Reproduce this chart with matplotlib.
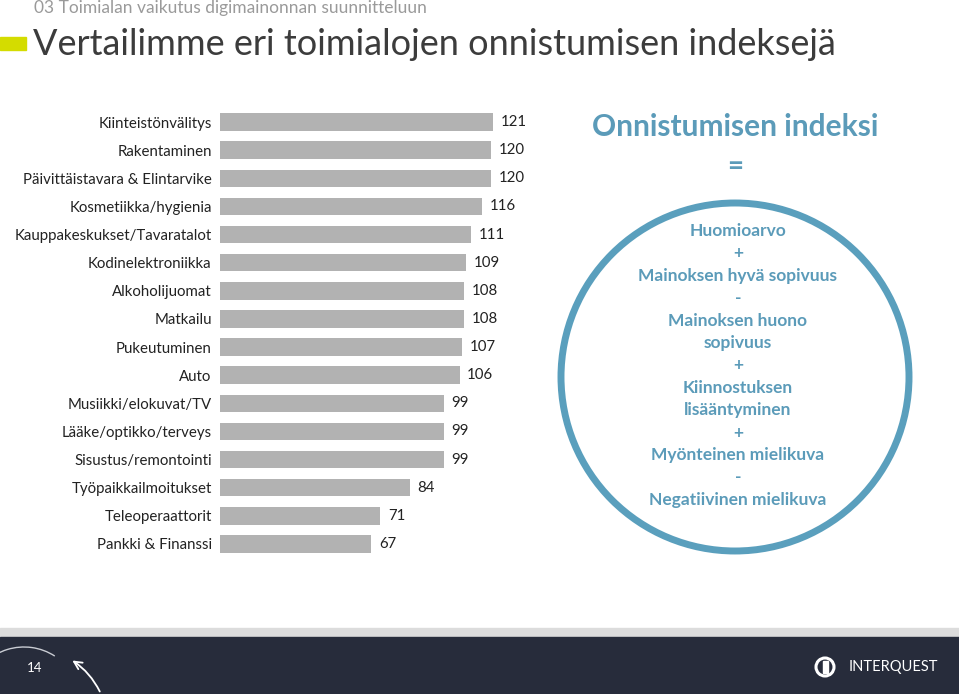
import matplotlib.pyplot as plt
from matplotlib.patches import Circle, Rectangle, FancyArrowPatch, Arc

plt.rcParams['font.family'] = ['Lato', 'DejaVu Sans']

categories = ['Kiinteistönvälitys', 'Rakentaminen', 'Päivittäistavara & Elintarvike',
              'Kosmetiikka/hygienia', 'Kauppakeskukset/Tavaratalot', 'Kodinelektroniikka',
              'Alkoholijuomat', 'Matkailu', 'Pukeutuminen', 'Auto', 'Musiikki/elokuvat/TV',
              'Lääke/optikko/terveys', 'Sisustus/remontointi', 'Työpaikkailmoitukset',
              'Teleoperaattorit', 'Pankki & Finanssi']
values = [121, 120, 120, 116, 111, 109, 108, 108, 107, 106, 99, 99, 99, 84, 71, 67]

formula = ['Huomioarvo', '+', 'Mainoksen hyvä sopivuus', '-', 'Mainoksen huono', 'sopivuus',
           '+', 'Kiinnostuksen', 'lisääntyminen', '+', 'Myönteinen mielikuva', '-',
           'Negatiivinen mielikuva']

W, H = 959, 694
fig = plt.figure(figsize=(W / 100, H / 100), dpi=100)

# overlay in pixel coordinates for slide decorations
bg = fig.add_axes([0, 0, 1, 1])
bg.set_xlim(0, W)
bg.set_ylim(H, 0)
bg.axis('off')

blue = '#5b9bb9'

bg.text(34, 8, '03 Toimialan vaikutus digimainonnan suunnitteluun', fontsize=12.5,
        color='#9a9a9a', va='center', ha='left')
bg.add_patch(Rectangle((0, 37), 26, 13, color='#d4dc00'))
bg.text(33, 44, 'Vertailimme eri toimialojen onnistumisen indeksejä', fontsize=26,
        color='#3c3c3c', va='center', ha='left')

# right side formula
bg.text(735, 127, 'Onnistumisen indeksi', fontsize=21.5, fontweight='bold', color=blue,
        ha='center', va='center')
bg.text(735, 167, '=', fontsize=20, fontweight='bold', color=blue, ha='center', va='center')
bg.add_patch(Circle((735, 377), 174, fill=False, lw=5, ec='#5a9fbd'))
for i, line in enumerate(formula):
    bg.text(738, 231 + i * 22.4, line, fontsize=12.5, fontweight='bold', color=blue,
            ha='center', va='center')

# footer
bg.add_patch(Rectangle((0, 628), W, 9, color='#dcdcdc'))
bg.add_patch(Rectangle((0, 637), W, H - 637, color='#272c3b'))
bg.add_patch(Arc((24, 700), 110, 106, theta1=200, theta2=305, color='#c9ccd3', lw=1))
bg.add_patch(FancyArrowPatch((101, 694), (70, 659), arrowstyle='->', mutation_scale=14,
                             connectionstyle='arc3,rad=0.15', color='white', lw=1.3))
bg.text(35, 668, '14', fontsize=9.5, color='white', ha='center', va='center')
bg.add_patch(Circle((825, 667), 9, fill=False, ec='white', lw=2.2))
bg.add_patch(Rectangle((822.5, 661), 5, 12, color='white'))
bg.text(849, 667, 'INTERQUEST', fontsize=10.5, color='white', ha='left', va='center')

# bar chart
ax = fig.add_axes([220 / W, 1 - 558 / H, 340 / W, 450 / H])
ax.patch.set_visible(False)
ax.barh(range(len(values)), values, height=0.62, color='#b2b2b2')
ax.set_xlim(0, 340 / 2.26)
ax.set_ylim(len(values) - 0.5, -0.5)
ax.set_yticks(range(len(values)))
ax.set_yticklabels(categories, fontsize=10.8, color='#222222')
ax.tick_params(axis='y', length=0, pad=6)
ax.set_xticks([])
for s in ax.spines.values():
    s.set_visible(False)
for i, v in enumerate(values):
    ax.text(v + 3.4, i, str(v), fontsize=10.8, color='#222222', va='center', ha='left')

fig.savefig('out.png', dpi=100)
